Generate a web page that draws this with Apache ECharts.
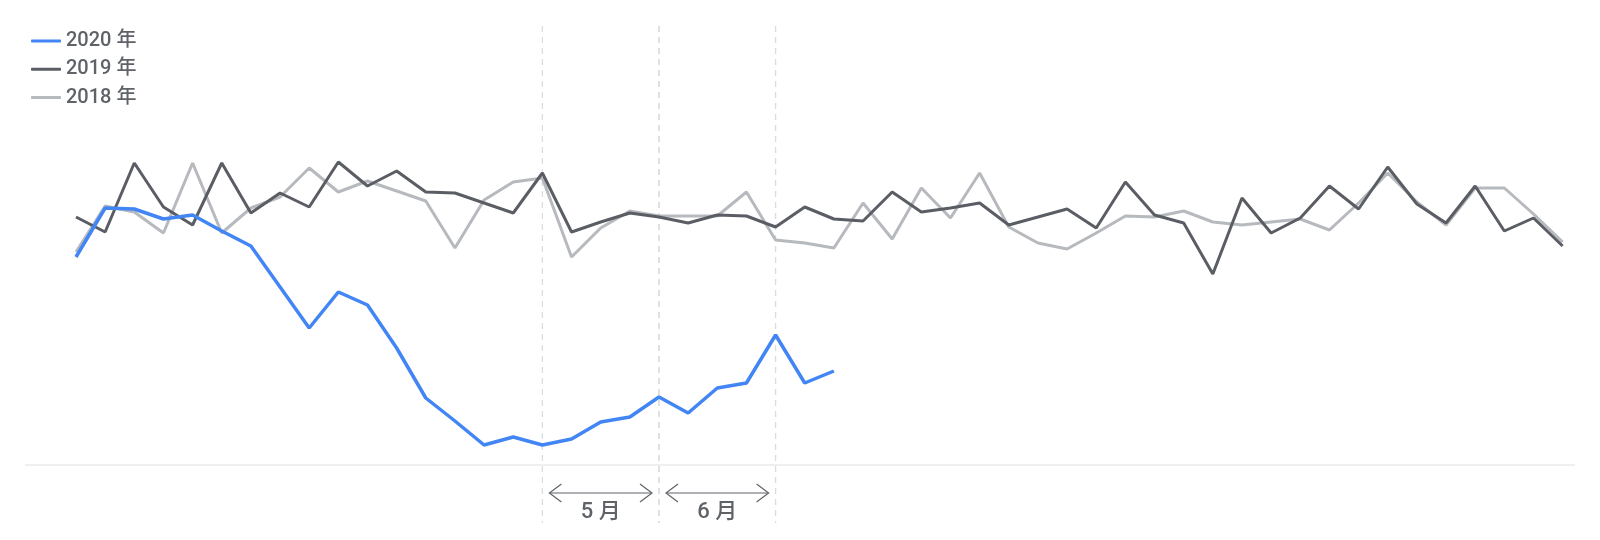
<!DOCTYPE html>
<html>
<head>
<meta charset="utf-8">
<script src="https://cdn.jsdelivr.net/npm/echarts@6/dist/echarts.min.js"></script>
<style>
  html, body { margin: 0; padding: 0; background: #ffffff; }
  #chart { width: 1600px; height: 540px; }
</style>
</head>
<body>
<div id="chart"></div>
<script>
// week index (category positions)
const weeks = [0,1,2,3,4,5,6,7,8,9,10,11,12,13,14,15,16,17,18,19,20,21,22,23,24,25,
  26,27,28,29,30,31,32,33,34,35,36,37,38,39,40,41,42,43,44,45,46,47,48,49,50,51];

const seriesNames = ['2020 年', '2019 年', '2018 年'];

const v2020 = [208,257,256,246,250,234,219,178,137,173,160,117,67,44,20,28,20,26,43,48,
  68,52,77,82,130,82,94];

const v2019 = [248,233,302,258,240,302,252,272,258,303,279,294,273,272,262,252,292,233,243,252,
  248,242,250,249,238,258,246,244,273,253,257,262,240,248,256,237,283,250,242,191,
  267,232,247,279,256,298,261,242,279,234,247,219];

const v2018 = [213,259,253,232,302,232,257,268,297,273,284,274,264,217,265,283,287,208,237,254,
  249,249,249,273,225,222,217,262,226,277,247,292,238,222,216,232,249,248,254,243,
  240,243,246,235,262,292,263,240,277,277,251,223];

// month spans: [start week, end week]
const monthStarts = [16, 20];
const monthEnds = [20, 24];
const monthLabels = ['5 月', '6 月'];

function pairs(vals) { return vals.map((v, i) => [weeks[i], v]); }

const textColor = '#5f6368';
const font = 'Roboto, "Noto Sans", "Noto Sans CJK SC", sans-serif';

const chart = echarts.init(document.getElementById('chart'), null, { renderer: 'canvas' });

chart.setOption({
  animation: false,
  backgroundColor: '#ffffff',
  legend: {
    orient: 'vertical',
    left: 26,
    top: 26,
    icon: 'roundRect',
    itemWidth: 30,
    itemHeight: 3,
    itemGap: 8.3,
    data: seriesNames,
    textStyle: { color: textColor, fontSize: 20, fontWeight: 500, fontFamily: font, lineHeight: 20 }
  },
  grid: { left: 26, right: 26, top: 25, bottom: 75, containLabel: false },
  xAxis: {
    type: 'value',
    min: -1.715,
    max: 51.39,
    axisLine: { show: true, lineStyle: { color: '#eeeff1', width: 2 } },
    axisTick: { show: false },
    axisLabel: { show: false },
    splitLine: { show: false }
  },
  yAxis: {
    type: 'value',
    min: 0,
    max: 440,
    show: false,
    splitLine: { show: false }
  },
  series: [
    {
      name: 'months',
      type: 'custom',
      silent: true,
      clip: false,
      z: 1,
      data: monthStarts.map((s, i) => [s, 0, monthEnds[i]]),
      encode: { x: [0, 2], y: 1 },
      renderItem: function (params, api) {
        const x0 = api.coord([api.value(0), 0])[0];
        const x1 = api.coord([api.value(2), 0])[0];
        const top = 26, bottom = 523, ay = 493, inset = 7, hw = 12, hh = 9;
        const dashStyle = { stroke: '#dadce0', lineWidth: 1.3, lineDash: [6, 5] };
        const arrowStyle = { stroke: textColor, lineWidth: 1.2, fill: null };
        return {
          type: 'group',
          children: [
            { type: 'line', shape: { x1: x0, y1: top, x2: x0, y2: bottom }, style: dashStyle },
            { type: 'line', shape: { x1: x1, y1: top, x2: x1, y2: bottom }, style: dashStyle },
            { type: 'line', shape: { x1: x0 + inset, y1: ay, x2: x1 - inset, y2: ay }, style: arrowStyle },
            { type: 'polyline', shape: { points: [[x0 + inset + hw, ay - hh], [x0 + inset, ay], [x0 + inset + hw, ay + hh]] }, style: arrowStyle },
            { type: 'polyline', shape: { points: [[x1 - inset - hw, ay - hh], [x1 - inset, ay], [x1 - inset - hw, ay + hh]] }, style: arrowStyle },
            { type: 'text', style: { x: (x0 + x1) / 2, y: 512, text: monthLabels[params.dataIndex],
                align: 'center', verticalAlign: 'middle', fill: textColor, font: '500 22px ' + font } }
          ]
        };
      }
    },
    {
      name: '2018 年', type: 'line', z: 2, symbol: 'none', showSymbol: false,
      data: pairs(v2018),
      itemStyle: { color: '#b6b9bd' },
      lineStyle: { color: '#b6b9bd', width: 3 }
    },
    {
      name: '2019 年', type: 'line', z: 3, symbol: 'none', showSymbol: false,
      data: pairs(v2019),
      itemStyle: { color: '#5a5e64' },
      lineStyle: { color: '#5a5e64', width: 3 }
    },
    {
      name: '2020 年', type: 'line', z: 4, symbol: 'none', showSymbol: false,
      data: pairs(v2020),
      itemStyle: { color: '#4285f4' },
      lineStyle: { color: '#4285f4', width: 3.5 }
    }
  ]
});
</script>
</body>
</html>
